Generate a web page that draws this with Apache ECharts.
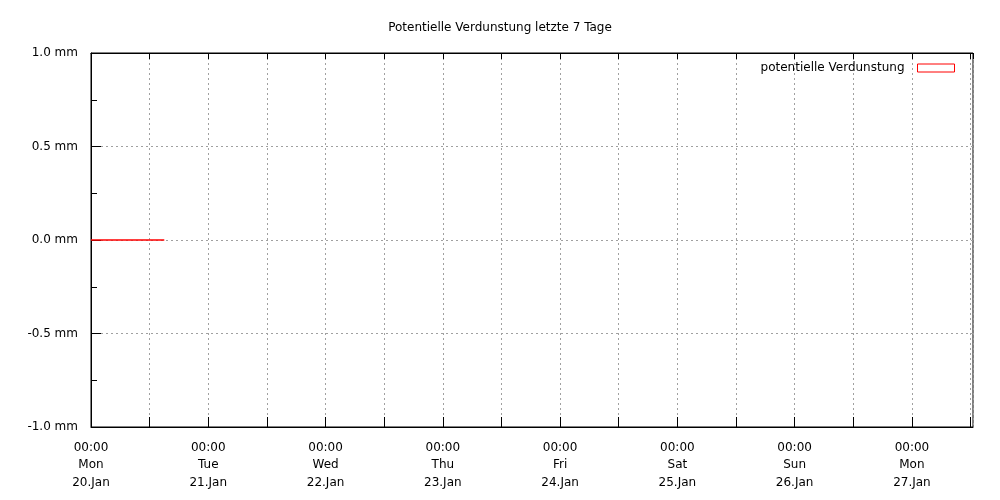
<!DOCTYPE html>
<html>
<head>
<meta charset="utf-8">
<script src="https://cdn.jsdelivr.net/npm/echarts@6/dist/echarts.min.js"></script>
<style>html,body{margin:0;padding:0;background:#fff}#c{width:1000px;height:500px}</style>
</head>
<body>
<div id="c"></div>
<script>
// hours since Mon 20.Jan 00:00
const hours = [0,1,2,3,4,5,6,7,8,9,10,11,12,13,14,15];
const values = [0,0,0,0,0,0,0,0,0,0,0,0,0,0,0,0];
const dayNames = ['Mon','Tue','Wed','Thu','Fri','Sat','Sun','Mon'];
const dayDates = ['20.Jan','21.Jan','22.Jan','23.Jan','24.Jan','25.Jan','26.Jan','27.Jan'];
const yTicks = [-1, -0.5, 0, 0.5, 1];
const titleText = 'Potentielle Verdunstung letzte 7 Tage';
const seriesName = 'potentielle Verdunstung';

const font = 'DejaVu Sans';
const chart = echarts.init(document.getElementById('c'), null, {renderer:'canvas'});
const dotted = {show:true, lineStyle:{color:'#a0a0a0', type:[2,3], width:1}};
chart.setOption({
  animation:false,
  backgroundColor:'#fff',
  title:{text:titleText, left:'center', top:17, textStyle:{fontFamily:font, fontSize:12, fontWeight:'normal', color:'#000'}},
  legend:{
    data:[{name:seriesName, icon:'rect', itemStyle:{color:'#fff', borderColor:'#ff0000', borderWidth:1}}],
    right:40, top:57, align:'right', itemWidth:37, itemHeight:8, itemGap:10,
    textStyle:{fontFamily:font, fontSize:12, color:'#000', padding:[0,8,0,0]}
  },
  grid:{left:91, right:27, top:53, bottom:73, show:true, borderColor:'#000', borderWidth:1, backgroundColor:'transparent'},
  xAxis:[{
    type:'value', min:0, max:180.5, interval:12,
    axisLine:{show:true, onZero:false, lineStyle:{color:'#000', width:1}},
    axisTick:{show:true, inside:true, length:10, lineStyle:{color:'#000'}},
    splitLine:dotted,
    axisLabel:{
      showMaxLabel:false,
      fontFamily:font, fontSize:12, color:'#000', lineHeight:17.5, margin:12,
      formatter:function(v){ if (v % 24 !== 0) return ''; const i=v/24; return '00:00\n'+dayNames[i]+'\n'+dayDates[i]; }
    }
  },{
    type:'value', position:'top', min:0, max:180.5, interval:12,
    axisLine:{show:true, onZero:false, lineStyle:{color:'#000'}},
    axisTick:{show:true, inside:true, length:6, lineStyle:{color:'#000'}},
    axisLabel:{show:false}, splitLine:{show:false}
  }],
  yAxis:{
    type:'value', min:yTicks[0], max:yTicks[yTicks.length-1], interval:0.5,
    axisLine:{show:true, onZero:false, lineStyle:{color:'#000', width:1}},
    axisTick:{show:true, inside:true, length:10, lineStyle:{color:'#000'}},
    minorTick:{show:true, splitNumber:2, length:6, lineStyle:{color:'#000'}},
    splitLine:dotted,
    axisLabel:{fontFamily:font, fontSize:12, color:'#000', margin:13, formatter:v=>v.toFixed(1)+' mm'}
  },
  series:[{
    name:seriesName, type:'line', xAxisIndex:0, z:10,
    data:hours.map((h,i)=>[h, values[i]]),
    showSymbol:false, lineStyle:{color:'#ff0000', width:1.5}, itemStyle:{color:'#ff0000'}
  }]
});
</script>
</body>
</html>
